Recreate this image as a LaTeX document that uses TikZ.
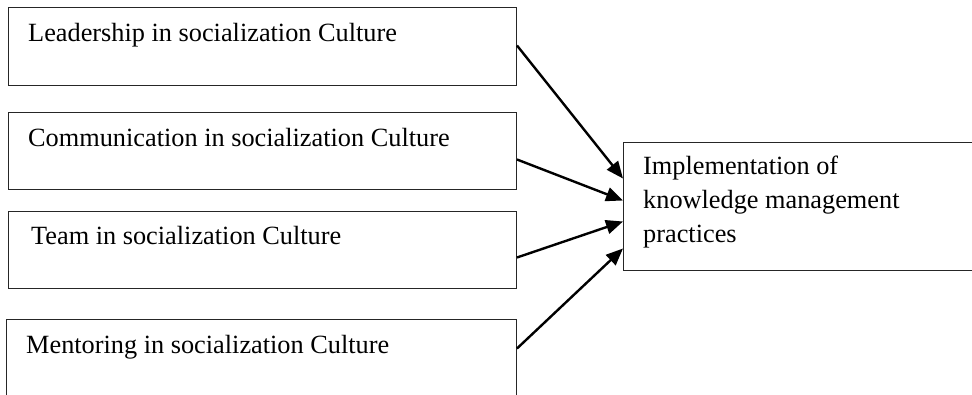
\documentclass[tikz,border=0pt]{standalone}
\usepackage{fontspec}
\setmainfont{Liberation Serif}
\usetikzlibrary{arrows.meta}
\begin{document}
\begin{tikzpicture}[x=1pt,y=-1pt,
  box/.style={draw=black!85, line width=1pt, anchor=north west, inner sep=0pt},
  txt/.style={anchor=base west, inner sep=0pt, font=\fontsize{26.3}{34}\selectfont},
  conn/.style={line width=2.4pt, -{Triangle[length=17pt,width=14pt]}}]
\useasboundingbox (0,0) rectangle (972,395);
\node[box, minimum width=508pt, minimum height=78pt] (b1) at (8,7) {};
\node[box, minimum width=508pt, minimum height=77pt] (b2) at (8,112) {};
\node[box, minimum width=508pt, minimum height=77pt] (b3) at (8,211) {};
\node[box, minimum width=510pt, minimum height=79pt] (b4) at (6,319) {};
\node[box, minimum width=350pt, minimum height=128pt] (r) at (623,142) {};
\node[txt] (t1) at (28,42) {Leadership in socialization Culture};
\node[txt] (t2) at (28,147) {Communication in socialization Culture};
\node[txt] (t3) at (31,245) {Team in socialization Culture};
\node[txt] (t4) at (26,353) {Mentoring in socialization Culture};
\node[txt] (r1) at (643,175) {Implementation of};
\node[txt] (r2) at (643,209) {knowledge management};
\node[txt] (r3) at (643,243) {practices};
\draw[conn] ([yshift=1pt]b1.east) -- ([yshift=28pt]r.west);
\draw[conn] ([yshift=-8.5pt]b2.east) -- ([yshift=6pt]r.west);
\draw[conn] ([yshift=-7.5pt]b3.east) -- ([yshift=-15pt]r.west);
\draw[conn] ([yshift=10.5pt]b4.east) -- ([yshift=-42pt]r.west);
\end{tikzpicture}
\end{document}
